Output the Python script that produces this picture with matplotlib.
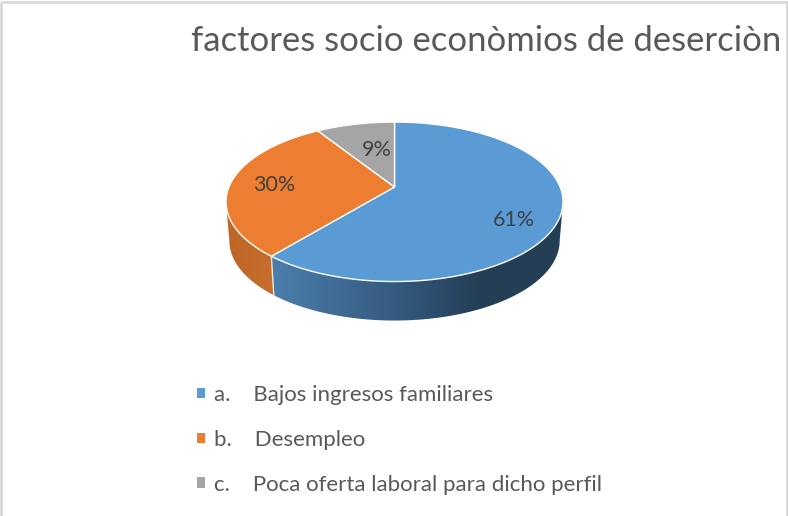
import numpy as np
import matplotlib
matplotlib.use('Agg')
from matplotlib import pyplot as plt
from matplotlib.patches import Polygon, Patch, Rectangle

title = 'factores socio econòmios de deserciòn'
categories = ['a.    Bajos ingresos familiares', 'b.    Desempleo', 'c.    Poca oferta laboral para dicho perfil']
shares = [61, 30, 9]
labels = ['61%', '30%', '9%']
colors = ['#5B9BD5', '#ED7D31', '#A5A5A5']
label_pos = [(514, 220), (274, 185), (377, 150)]

plt.rcParams['font.family'] = ['Lato', 'Open Sans', 'DejaVu Sans']

# pie geometry, in pixels of the picture
cx, cy = 394.5, 187
a_y, b_x, k = 77, 165.6, 0.1855
depth = 39


def rim(t, dy=0, scale=1.0):
    # tilted circle, t clockwise from 12 o'clock
    u, v = np.sin(t), np.cos(t)
    w = 1 + k * v
    return np.column_stack((cx + scale * b_x * u / w, cy + dy - a_y * v / w))


fig = plt.figure(figsize=(7.88, 5.16), dpi=100)
ax = fig.add_axes([0, 0, 1, 1])

edges = np.cumsum([0] + shares) / sum(shares) * 2 * np.pi
t_right = np.arccos(-k)
t_left = 2 * np.pi - t_right


def side(t0, t1, stops, z):
    t = np.linspace(t0, t1, 120)
    verts = np.vstack((rim(t), rim(t[::-1], depth, 0.98)))
    poly = Polygon(verts, closed=True, transform=ax.transData, facecolor='none', edgecolor='none')
    ax.add_patch(poly)
    xs = np.arange(220, 570)
    grad = np.stack([np.interp(xs, stops[0], [c[i] for c in stops[1]]) for i in range(3)], axis=-1) / 255
    im = ax.imshow(grad[np.newaxis, :, :], extent=(220, 570, 330, 190), aspect='auto', zorder=z)
    im.set_clip_path(poly)


side(t_right, edges[1], ([272, 395, 480, 565],
                         [(76, 126, 172), (52, 90, 128), (36, 62, 86), (36, 62, 86)]), 1)
side(edges[1], t_left, ([225, 275], [(190, 100, 38), (200, 110, 45)]), 1)
seam = np.vstack((rim(np.array([edges[1]])), rim(np.array([edges[1]]), depth, 0.98)))
ax.plot(seam[:, 0], seam[:, 1], color='#F2E6DC', lw=1.0, zorder=2)

for i in range(3):
    t = np.linspace(edges[i], edges[i + 1], 150)
    verts = np.vstack(([[cx, cy]], rim(t)))
    ax.add_patch(Polygon(verts, closed=True, facecolor=colors[i], edgecolor='white', lw=1.0,
                         joinstyle='round', zorder=3))

for txt, pos in zip(labels, label_pos):
    ax.text(pos[0], pos[1], txt, fontsize=15.5, color='#404040', ha='center', va='center', zorder=4)

ax.text(486.5, 41, title, fontsize=24.9, color='#595959', ha='center', va='center')

handles = [Patch(facecolor=c, edgecolor='none') for c in colors]
leg = ax.legend(handles, categories, loc='upper left', bbox_to_anchor=(197 / 788, 1 - 385 / 516),
                frameon=False, fontsize=16, handlelength=0.36, handleheight=0.36, handletextpad=0.4,
                labelspacing=1.12, labelcolor='#595959', borderpad=0, borderaxespad=0)

# frame of the chart area
ax.add_patch(Rectangle((1, 1.5), 786, 530, facecolor='none', edgecolor='#D9D9D9', lw=2, zorder=5))

ax.set_xlim(0, 788)
ax.set_ylim(516, 0)
ax.axis('off')
fig.savefig('out.png', dpi=100)
